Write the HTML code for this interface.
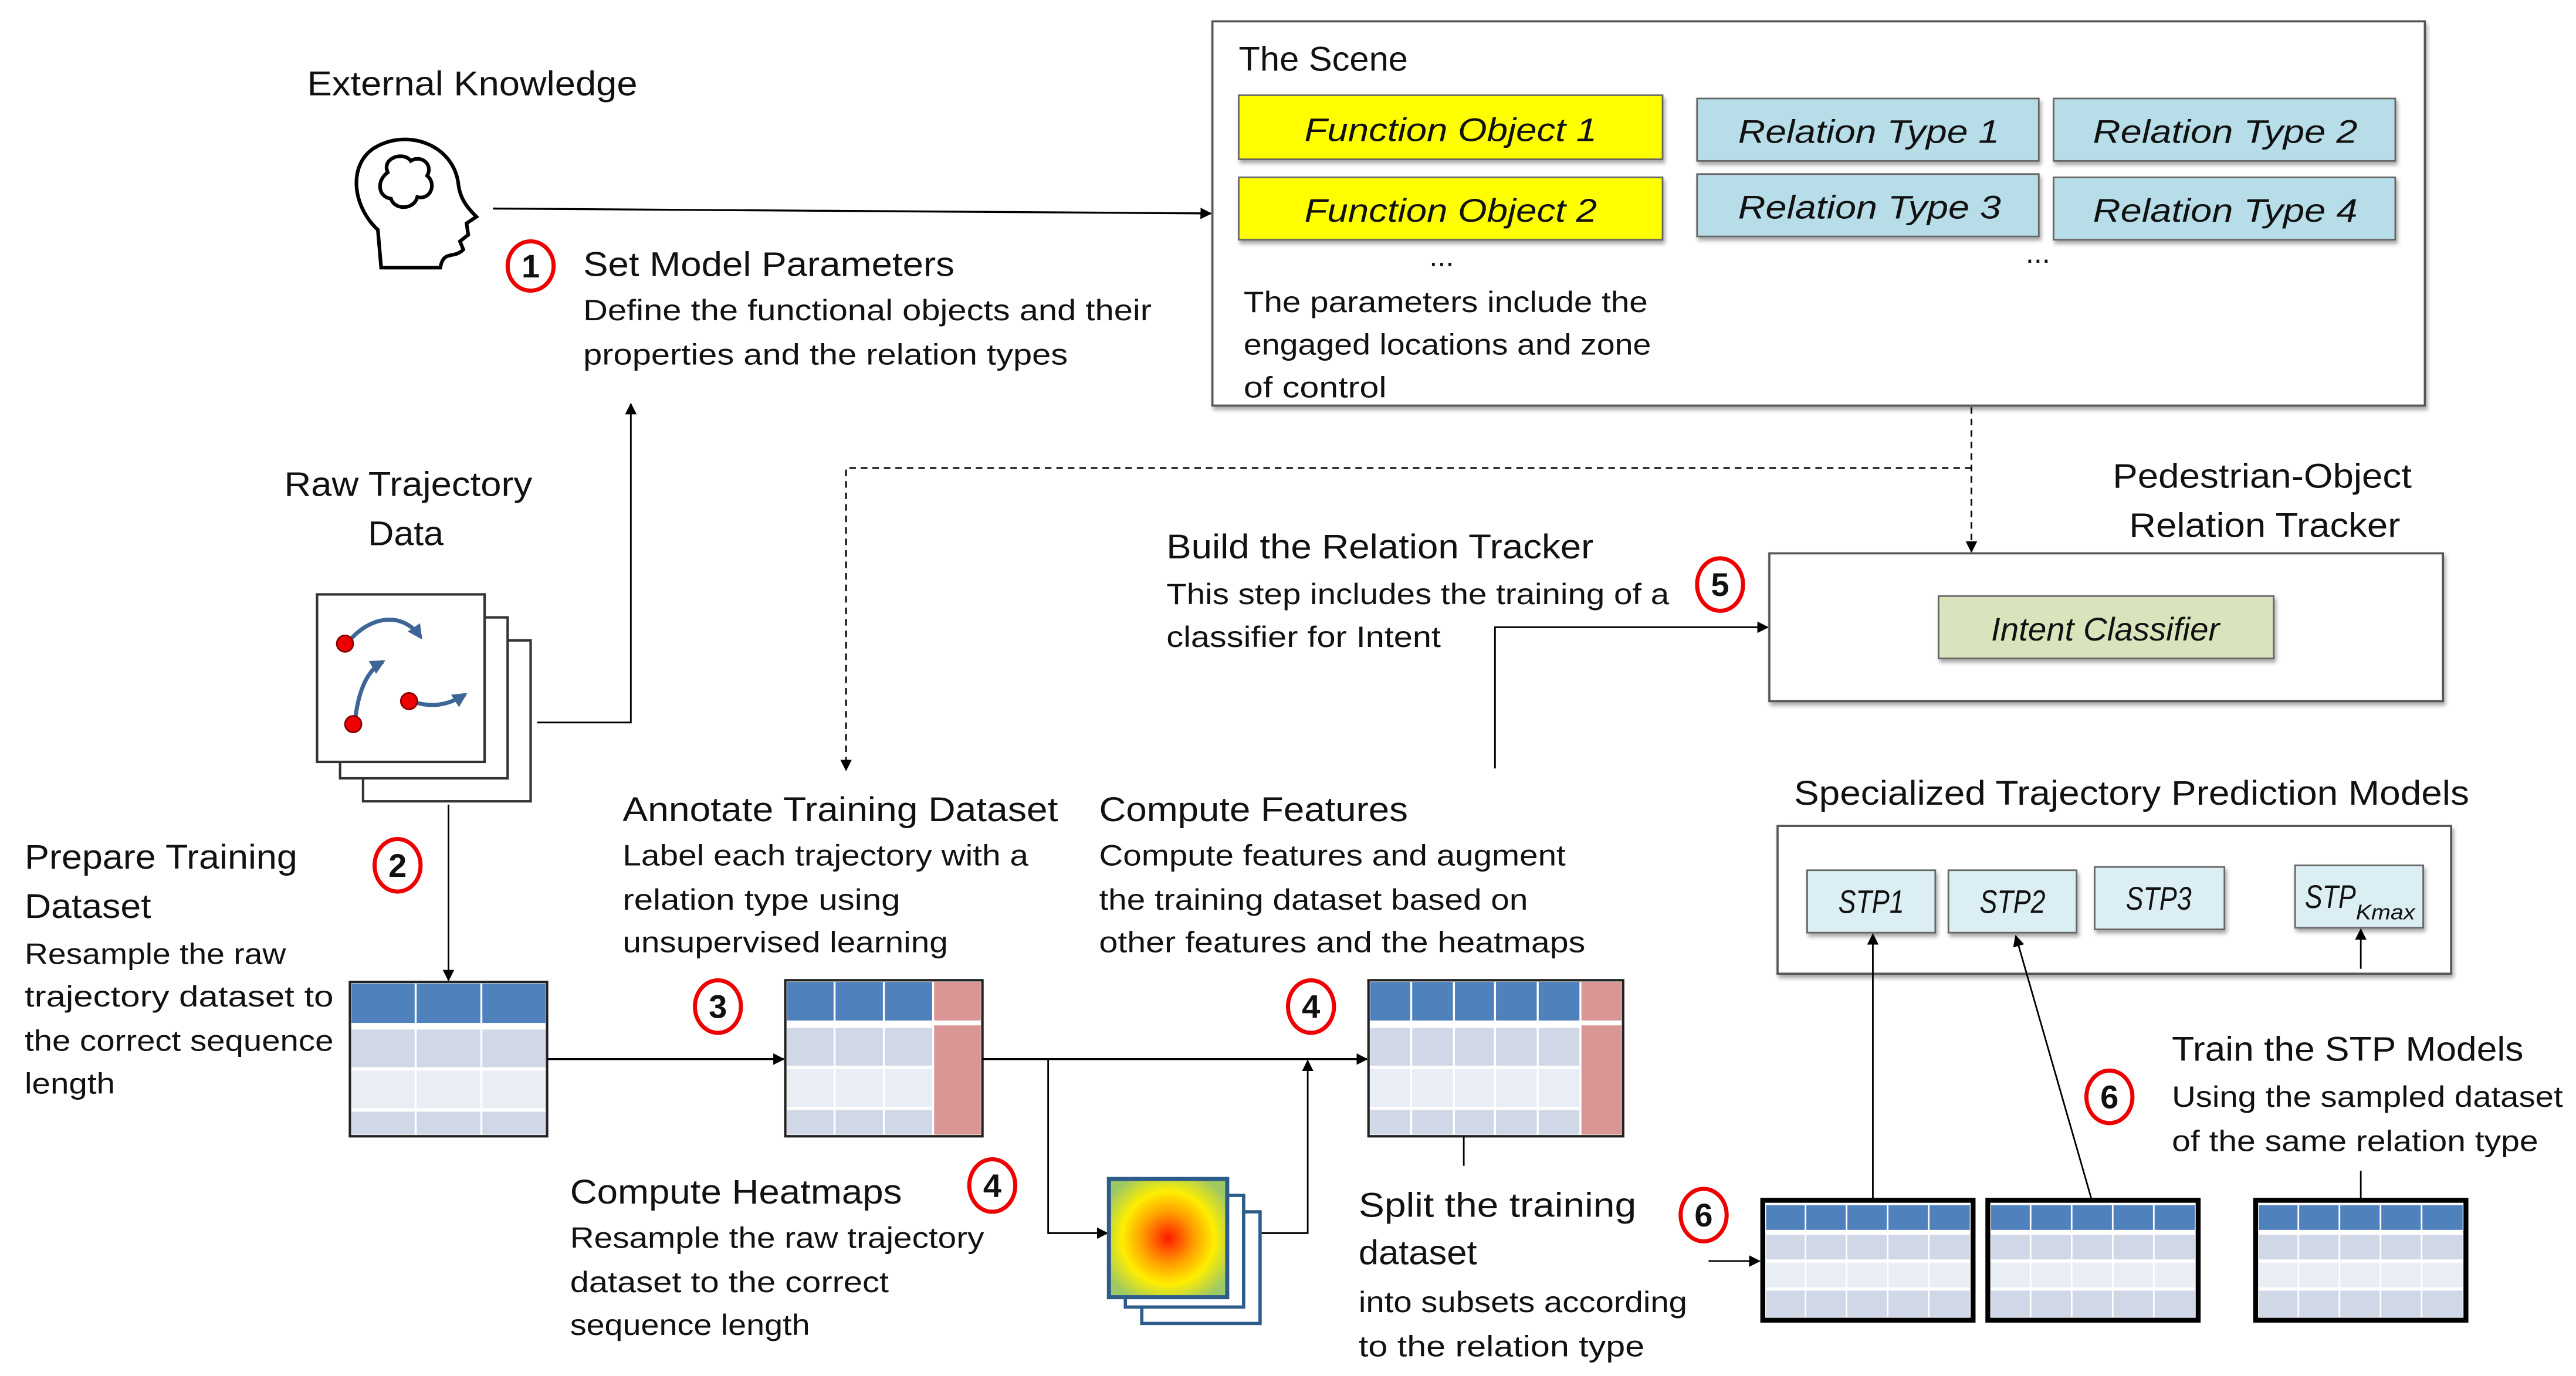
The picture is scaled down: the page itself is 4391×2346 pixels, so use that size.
<!DOCTYPE html>
<html><head><meta charset="utf-8"><style>
html,body{margin:0;padding:0;background:#fff}
svg{display:block}
text{font-family:"Liberation Sans",sans-serif;fill:#111}
.h{font-size:21px}
.d{font-size:18px}
.i{font-style:italic;font-size:20px}
.n{font-size:20px;font-weight:bold;text-anchor:middle}
</style></head><body>
<svg width="4391" height="2346" viewBox="0 0 1568 838" preserveAspectRatio="none" xmlns="http://www.w3.org/2000/svg">
<defs>
<marker id="a" viewBox="0 0 10 10" refX="9" refY="5" markerWidth="7" markerHeight="7" orient="auto-start-reverse" markerUnits="userSpaceOnUse"><path d="M0,0L10,5L0,10z" fill="#000"/></marker>
<marker id="ab" viewBox="0 0 10 10" refX="8" refY="5" markerWidth="9" markerHeight="9" orient="auto" markerUnits="userSpaceOnUse"><path d="M0,0L10,5L0,10z" fill="#3d6696"/></marker>
<radialGradient id="hm" cx="0.5" cy="0.5" r="0.6">
<stop offset="0" stop-color="#ff1a00"/><stop offset="0.35" stop-color="#ff9900"/><stop offset="0.65" stop-color="#ffee00"/><stop offset="1" stop-color="#9cc866"/></radialGradient>
<filter id="sh" x="-5%" y="-5%" width="110%" height="120%"><feDropShadow dx="1" dy="2" stdDeviation="1.2" flood-opacity="0.35"/></filter>
</defs>

<text class="h" x="187" y="58" textLength="201" lengthAdjust="spacingAndGlyphs">External Knowledge</text>
<path d="M232,163 L230,140 C214,125 212,100 228,90 C248,78 276,88 279,112 C280,122 286,128 290,132 L284,136 L285,143 L280,147 L282,152 C276,158 270,152 268,163 Z" fill="none" stroke="#000" stroke-width="2.2"/>
<path d="M236,105 C232,96 246,92 250,98 C256,94 264,100 260,107 C266,112 262,122 254,120 C252,128 240,128 238,121 C230,120 229,110 236,105 Z" fill="none" stroke="#000" stroke-width="2.2"/>
<line x1="300" y1="127" x2="737" y2="130" stroke="#000" stroke-width="1.2" marker-end="url(#a)"/>

<ellipse cx="323" cy="162" rx="14" ry="15" fill="none" stroke="#e00" stroke-width="2.5"/><text class="n" x="323" y="169">1</text>
<text class="h" x="355" y="168" textLength="226" lengthAdjust="spacingAndGlyphs">Set Model Parameters</text>
<text class="d" x="355" y="195" textLength="346" lengthAdjust="spacingAndGlyphs">Define the functional objects and their</text>
<text class="d" x="355" y="222" textLength="295" lengthAdjust="spacingAndGlyphs">properties and the relation types</text>

<rect x="738" y="13" width="738" height="234" fill="#fff" stroke="#555" stroke-width="1.3" filter="url(#sh)"/>
<text class="h" x="754" y="43" textLength="103" lengthAdjust="spacingAndGlyphs">The Scene</text>
<g filter="url(#sh)" stroke="#666" stroke-width="1">
<rect x="754" y="58" width="258" height="39" fill="#ffff00"/>
<rect x="754" y="108" width="258" height="38" fill="#ffff00"/>
<rect x="1033" y="60" width="208" height="38" fill="#b7dde8"/>
<rect x="1250" y="60" width="208" height="38" fill="#b7dde8"/>
<rect x="1033" y="106" width="208" height="38" fill="#b7dde8"/>
<rect x="1250" y="108" width="208" height="38" fill="#b7dde8"/>
</g>
<text class="i" x="794" y="86" textLength="178" lengthAdjust="spacingAndGlyphs">Function Object 1</text>
<text class="i" x="794" y="135" textLength="178" lengthAdjust="spacingAndGlyphs">Function Object 2</text>
<text class="i" x="1058" y="87" textLength="159" lengthAdjust="spacingAndGlyphs">Relation Type  1</text>
<text class="i" x="1274" y="87" textLength="161" lengthAdjust="spacingAndGlyphs">Relation Type  2</text>
<text class="i" x="1058" y="133" textLength="160" lengthAdjust="spacingAndGlyphs">Relation Type  3</text>
<text class="i" x="1274" y="135" textLength="161" lengthAdjust="spacingAndGlyphs">Relation Type  4</text>
<text class="d" x="870" y="162">...</text>
<text class="d" x="1233" y="160">...</text>
<text class="d" x="757" y="190" textLength="246" lengthAdjust="spacingAndGlyphs">The parameters include the</text>
<text class="d" x="757" y="216" textLength="248" lengthAdjust="spacingAndGlyphs">engaged locations and zone</text>
<text class="d" x="757" y="242" textLength="87" lengthAdjust="spacingAndGlyphs">of control</text>

<path d="M1200,248 L1200,336" fill="none" stroke="#000" stroke-width="1" stroke-dasharray="4,3" marker-end="url(#a)"/>
<path d="M1200,285 L515,285 L515,469" fill="none" stroke="#000" stroke-width="1" stroke-dasharray="4,3" marker-end="url(#a)"/>

<text class="h" x="173" y="302" textLength="151" lengthAdjust="spacingAndGlyphs">Raw Trajectory</text>
<text class="h" x="224" y="332" textLength="46" lengthAdjust="spacingAndGlyphs">Data</text>
<rect x="221" y="390" width="102" height="98" fill="#fff" stroke="#333" stroke-width="1.5"/>
<rect x="207" y="376" width="102" height="98" fill="#fff" stroke="#333" stroke-width="1.5"/>
<rect x="193" y="362" width="102" height="102" fill="#fff" stroke="#333" stroke-width="1.5"/>
<path d="M212,391 C225,375 245,372 256,388" fill="none" stroke="#3d6696" stroke-width="2.5" marker-end="url(#ab)"/>
<path d="M216,440 C218,420 224,408 233,403" fill="none" stroke="#3d6696" stroke-width="2.5" marker-end="url(#ab)"/>
<path d="M250,427 C262,431 272,430 283,423" fill="none" stroke="#3d6696" stroke-width="2.5" marker-end="url(#ab)"/>
<circle cx="210" cy="392" r="5" fill="#e00" stroke="#800"/>
<circle cx="215" cy="441" r="5" fill="#e00" stroke="#800"/>
<circle cx="249" cy="427" r="5" fill="#e00" stroke="#800"/>
<path d="M327,440 L384,440 L384,246" fill="none" stroke="#000" stroke-width="1" marker-end="url(#a)"/>
<line x1="273" y1="490" x2="273" y2="597" stroke="#000" stroke-width="1" marker-end="url(#a)"/>

<ellipse cx="242" cy="527" rx="14" ry="16" fill="none" stroke="#e00" stroke-width="2.5"/><text class="n" x="242" y="534">2</text>
<text class="h" x="15" y="529" textLength="166" lengthAdjust="spacingAndGlyphs">Prepare Training</text>
<text class="h" x="15" y="559" textLength="77" lengthAdjust="spacingAndGlyphs">Dataset</text>
<text class="d" x="15" y="587" textLength="159" lengthAdjust="spacingAndGlyphs">Resample the raw</text>
<text class="d" x="15" y="613" textLength="188" lengthAdjust="spacingAndGlyphs">trajectory dataset to</text>
<text class="d" x="15" y="640" textLength="188" lengthAdjust="spacingAndGlyphs">the correct sequence</text>
<text class="d" x="15" y="666" textLength="55" lengthAdjust="spacingAndGlyphs">length</text>

<g>
<rect x="213" y="598" width="120" height="94" fill="#fff" stroke="#222" stroke-width="1.5"/>
<rect x="214" y="599" width="118" height="24" fill="#4f81bd"/>
<rect x="214" y="627" width="118" height="23" fill="#d0d8e8"/>
<rect x="214" y="652" width="118" height="23" fill="#e9edf4"/>
<rect x="214" y="677" width="118" height="14" fill="#d0d8e8"/>
<line x1="253" y1="599" x2="253" y2="691" stroke="#fff" stroke-width="1.2"/>
<line x1="293" y1="599" x2="293" y2="691" stroke="#fff" stroke-width="1.2"/>
</g>
<line x1="333" y1="645" x2="477" y2="645" stroke="#000" stroke-width="1.2" marker-end="url(#a)"/>
<ellipse cx="437" cy="613" rx="14" ry="16" fill="none" stroke="#e00" stroke-width="2.5"/><text class="n" x="437" y="620">3</text>

<text class="h" x="379" y="500" textLength="265" lengthAdjust="spacingAndGlyphs">Annotate Training Dataset</text>
<text class="d" x="379" y="527" textLength="247" lengthAdjust="spacingAndGlyphs">Label each trajectory with a</text>
<text class="d" x="379" y="554" textLength="169" lengthAdjust="spacingAndGlyphs">relation type using</text>
<text class="d" x="379" y="580" textLength="198" lengthAdjust="spacingAndGlyphs">unsupervised learning</text>

<g>
<rect x="478" y="597" width="120" height="95" fill="#fff" stroke="#222" stroke-width="1.5"/>
<rect x="479" y="598" width="89" height="24" fill="#4f81bd"/>
<rect x="479" y="626" width="89" height="23" fill="#d0d8e8"/>
<rect x="479" y="651" width="89" height="23" fill="#e9edf4"/>
<rect x="479" y="676" width="89" height="15" fill="#d0d8e8"/>
<rect x="568" y="598" width="29" height="93" fill="#d99694"/>
<line x1="479" y1="623" x2="597" y2="623" stroke="#fff" stroke-width="3"/>
<line x1="508" y1="598" x2="508" y2="691" stroke="#fff" stroke-width="1.2"/>
<line x1="538" y1="598" x2="538" y2="691" stroke="#fff" stroke-width="1.2"/>
<line x1="568" y1="598" x2="568" y2="691" stroke="#fff" stroke-width="1.2"/>
</g>
<line x1="598" y1="645" x2="832" y2="645" stroke="#000" stroke-width="1.2" marker-end="url(#a)"/>
<path d="M638,645 L638,751 L674,751" fill="none" stroke="#000" stroke-width="1" marker-end="url(#a)"/>

<rect x="695" y="738" width="72" height="68" fill="#fff" stroke="#2e5c8a" stroke-width="2"/>
<rect x="685" y="728" width="72" height="68" fill="#fff" stroke="#2e5c8a" stroke-width="2"/>
<rect x="675" y="718" width="72" height="72" fill="url(#hm)" stroke="#2e5c8a" stroke-width="2.5"/>
<path d="M768,751 L796,751 L796,646" fill="none" stroke="#000" stroke-width="1" marker-end="url(#a)"/>

<ellipse cx="604" cy="722" rx="14" ry="16" fill="none" stroke="#e00" stroke-width="2.5"/><text class="n" x="604" y="729">4</text>
<text class="h" x="347" y="733" textLength="202" lengthAdjust="spacingAndGlyphs">Compute Heatmaps</text>
<text class="d" x="347" y="760" textLength="252" lengthAdjust="spacingAndGlyphs">Resample the raw trajectory</text>
<text class="d" x="347" y="787" textLength="194" lengthAdjust="spacingAndGlyphs">dataset to the correct</text>
<text class="d" x="347" y="813" textLength="146" lengthAdjust="spacingAndGlyphs">sequence length</text>

<ellipse cx="798" cy="613" rx="14" ry="16" fill="none" stroke="#e00" stroke-width="2.5"/><text class="n" x="798" y="620">4</text>
<text class="h" x="669" y="500" textLength="188" lengthAdjust="spacingAndGlyphs">Compute Features</text>
<text class="d" x="669" y="527" textLength="284" lengthAdjust="spacingAndGlyphs">Compute features and augment</text>
<text class="d" x="669" y="554" textLength="261" lengthAdjust="spacingAndGlyphs">the training dataset based on</text>
<text class="d" x="669" y="580" textLength="296" lengthAdjust="spacingAndGlyphs">other features and the heatmaps</text>

<g>
<rect x="833" y="597" width="155" height="95" fill="#fff" stroke="#222" stroke-width="1.5"/>
<rect x="834" y="598" width="128" height="24" fill="#4f81bd"/>
<rect x="834" y="626" width="128" height="23" fill="#d0d8e8"/>
<rect x="834" y="651" width="128" height="23" fill="#e9edf4"/>
<rect x="834" y="676" width="128" height="15" fill="#d0d8e8"/>
<rect x="962" y="598" width="25" height="93" fill="#d99694"/>
<line x1="834" y1="623" x2="987" y2="623" stroke="#fff" stroke-width="3"/>
<line x1="859" y1="598" x2="859" y2="691" stroke="#fff" stroke-width="1.2"/>
<line x1="885" y1="598" x2="885" y2="691" stroke="#fff" stroke-width="1.2"/>
<line x1="910" y1="598" x2="910" y2="691" stroke="#fff" stroke-width="1.2"/>
<line x1="936" y1="598" x2="936" y2="691" stroke="#fff" stroke-width="1.2"/>
<line x1="962" y1="598" x2="962" y2="691" stroke="#fff" stroke-width="1.2"/>
</g>
<line x1="891" y1="692" x2="891" y2="710" stroke="#000" stroke-width="1"/>
<path d="M910,468 L910,382 L1076,382" fill="none" stroke="#000" stroke-width="1" marker-end="url(#a)"/>

<text class="h" x="710" y="340" textLength="260" lengthAdjust="spacingAndGlyphs">Build the Relation Tracker</text>
<text class="d" x="710" y="368" textLength="306" lengthAdjust="spacingAndGlyphs">This step includes the training of a</text>
<text class="d" x="710" y="394" textLength="167" lengthAdjust="spacingAndGlyphs">classifier for Intent</text>
<ellipse cx="1047" cy="356" rx="14" ry="16" fill="none" stroke="#e00" stroke-width="2.5"/><text class="n" x="1047" y="363">5</text>
<text class="h" x="1286" y="297" textLength="182" lengthAdjust="spacingAndGlyphs">Pedestrian-Object</text>
<text class="h" x="1296" y="327" textLength="165" lengthAdjust="spacingAndGlyphs">Relation  Tracker</text>
<rect x="1077" y="337" width="410" height="90" fill="#fff" stroke="#555" stroke-width="1.3" filter="url(#sh)"/>
<rect x="1180" y="363" width="204" height="38" fill="#d9e4bd" stroke="#666" stroke-width="1" filter="url(#sh)"/>
<text class="i" x="1212" y="390" textLength="139" lengthAdjust="spacingAndGlyphs">Intent Classifier</text>

<text class="h" x="1092" y="490" textLength="411" lengthAdjust="spacingAndGlyphs">Specialized Trajectory Prediction Models</text>
<rect x="1082" y="503" width="410" height="90" fill="#fff" stroke="#555" stroke-width="1.3" filter="url(#sh)"/>
<g filter="url(#sh)" stroke="#666" stroke-width="1" fill="#daeef3">
<rect x="1100" y="530" width="78" height="38"/>
<rect x="1186" y="530" width="78" height="38"/>
<rect x="1275" y="528" width="79" height="38"/>
<rect x="1397" y="527" width="78" height="38"/>
</g>
<text class="i" x="1119" y="556" textLength="40" lengthAdjust="spacingAndGlyphs">STP1</text>
<text class="i" x="1205" y="556" textLength="40" lengthAdjust="spacingAndGlyphs">STP2</text>
<text class="i" x="1294" y="554" textLength="40" lengthAdjust="spacingAndGlyphs">STP3</text>
<text class="i" x="1403" y="553" textLength="31" lengthAdjust="spacingAndGlyphs">STP</text>
<text class="i" x="1434" y="560" style="font-size:13px" textLength="36" lengthAdjust="spacingAndGlyphs">Kmax</text>
<line x1="1140" y1="730" x2="1140" y2="569" stroke="#000" stroke-width="1" marker-end="url(#a)"/>
<line x1="1273" y1="730" x2="1227" y2="570" stroke="#000" stroke-width="1" marker-end="url(#a)"/>
<line x1="1437" y1="590" x2="1437" y2="566" stroke="#000" stroke-width="1" marker-end="url(#a)"/>
<line x1="1437" y1="713" x2="1437" y2="730" stroke="#000" stroke-width="1"/>

<ellipse cx="1284" cy="668" rx="14" ry="16" fill="none" stroke="#e00" stroke-width="2.5"/><text class="n" x="1284" y="675">6</text>
<text class="h" x="1322" y="646" textLength="214" lengthAdjust="spacingAndGlyphs">Train the STP Models</text>
<text class="d" x="1322" y="674" textLength="238" lengthAdjust="spacingAndGlyphs">Using the sampled dataset</text>
<text class="d" x="1322" y="701" textLength="223" lengthAdjust="spacingAndGlyphs">of the same relation type</text>

<text class="h" x="827" y="741" textLength="169" lengthAdjust="spacingAndGlyphs">Split the training</text>
<text class="h" x="827" y="770" textLength="72" lengthAdjust="spacingAndGlyphs">dataset</text>
<text class="d" x="827" y="799" textLength="200" lengthAdjust="spacingAndGlyphs">into subsets according</text>
<text class="d" x="827" y="826" textLength="174" lengthAdjust="spacingAndGlyphs">to the relation type</text>
<ellipse cx="1037" cy="740" rx="14" ry="16" fill="none" stroke="#e00" stroke-width="2.5"/><text class="n" x="1037" y="747">6</text>
<line x1="1040" y1="768" x2="1071" y2="768" stroke="#000" stroke-width="1" marker-end="url(#a)"/>

<g id="bt">
<rect x="1073" y="731" width="128" height="73" fill="#fff" stroke="#000" stroke-width="3"/>
<rect x="1075" y="734" width="124" height="15" fill="#4f81bd"/>
<rect x="1075" y="752" width="124" height="15" fill="#d0d8e8"/>
<rect x="1075" y="769" width="124" height="15" fill="#e9edf4"/>
<rect x="1075" y="786" width="124" height="16" fill="#d0d8e8"/>
<line x1="1099" y1="734" x2="1099" y2="802" stroke="#fff" stroke-width="1"/>
<line x1="1124" y1="734" x2="1124" y2="802" stroke="#fff" stroke-width="1"/>
<line x1="1149" y1="734" x2="1149" y2="802" stroke="#fff" stroke-width="1"/>
<line x1="1174" y1="734" x2="1174" y2="802" stroke="#fff" stroke-width="1"/>
</g>
<use href="#bt" x="137" y="0"/>
<use href="#bt" x="300" y="0"/>
</svg>
</body></html>
